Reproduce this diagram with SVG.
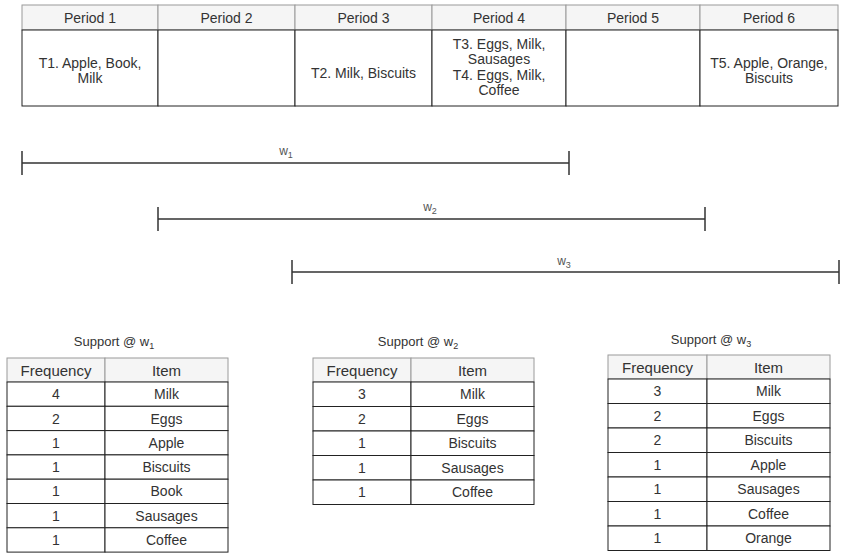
<svg xmlns="http://www.w3.org/2000/svg" width="843" height="556" viewBox="0 0 843 556">
<style>
text{font-family:"Liberation Sans",Arial,sans-serif;font-size:14px;fill:#333;text-anchor:middle}
.th{font-size:15px}
.ti{font-size:13px}
.hd{fill:#f5f5f5;stroke:#9a9a9a;stroke-width:1}
.cl{fill:#fff;stroke:#222;stroke-width:1}
.win{stroke:#333;stroke-width:1.5;fill:none}
.wl{fill:#555;font-size:12px}
.sub{font-size:9px}
</style>
<rect width="843" height="556" fill="#fff"/>
<g id="periods">
  <g id="period1">
    <rect class="hd" x="22" y="5" width="136" height="25"/>
    <rect class="cl" x="22" y="30" width="136" height="76"/>
    <text x="90" y="23">Period 1</text>
    <text x="90" y="68">T1. Apple, Book,</text>
    <text x="90" y="83">Milk</text>
  </g>
  <g id="period2">
    <rect class="hd" x="158" y="5" width="137" height="25"/>
    <rect class="cl" x="158" y="30" width="137" height="76"/>
    <text x="226.5" y="23">Period 2</text>
  </g>
  <g id="period3">
    <rect class="hd" x="295" y="5" width="137" height="25"/>
    <rect class="cl" x="295" y="30" width="137" height="76"/>
    <text x="363.5" y="23">Period 3</text>
    <text x="363.5" y="78">T2. Milk, Biscuits</text>
  </g>
  <g id="period4">
    <rect class="hd" x="432" y="5" width="134" height="25"/>
    <rect class="cl" x="432" y="30" width="134" height="76"/>
    <text x="499" y="23">Period 4</text>
    <text x="499" y="48.5">T3. Eggs, Milk,</text>
    <text x="499" y="64">Sausages</text>
    <text x="499" y="79.5">T4. Eggs, Milk,</text>
    <text x="499" y="95">Coffee</text>
  </g>
  <g id="period5">
    <rect class="hd" x="566" y="5" width="134" height="25"/>
    <rect class="cl" x="566" y="30" width="134" height="76"/>
    <text x="633" y="23">Period 5</text>
  </g>
  <g id="period6">
    <rect class="hd" x="700" y="5" width="138" height="25"/>
    <rect class="cl" x="700" y="30" width="138" height="76"/>
    <text x="769" y="23">Period 6</text>
    <text x="769" y="68">T5. Apple, Orange,</text>
    <text x="769" y="83">Biscuits</text>
  </g>
</g>
<g id="windows">
  <g id="w1">
    <path class="win" d="M22,163H569M22,151V175M569,151V175"/>
    <text class="wl" x="286" y="155">w<tspan class="sub" dy="3">1</tspan></text>
  </g>
  <g id="w2">
    <path class="win" d="M158,219H705M158,207V231M705,207V231"/>
    <text class="wl" x="430" y="211">w<tspan class="sub" dy="3">2</tspan></text>
  </g>
  <g id="w3">
    <path class="win" d="M292,272H839M292,260V284M839,260V284"/>
    <text class="wl" x="564" y="265">w<tspan class="sub" dy="3">3</tspan></text>
  </g>
</g>
<g id="support-w1">
  <text class="ti" x="114" y="346">Support @ w<tspan class="sub" dy="3">1</tspan></text>
  <rect class="hd" x="7" y="358" width="98" height="24"/>
  <rect class="hd" x="105" y="358" width="123" height="24"/>
  <text class="th" x="56" y="375.5">Frequency</text>
  <text class="th" x="166.5" y="375.5">Item</text>
  <g>
    <rect class="cl" x="7" y="382" width="98" height="24.3"/><rect class="cl" x="105" y="382" width="123" height="24.3"/>
    <rect class="cl" x="7" y="406.3" width="98" height="24.3"/><rect class="cl" x="105" y="406.3" width="123" height="24.3"/>
    <rect class="cl" x="7" y="430.6" width="98" height="24.3"/><rect class="cl" x="105" y="430.6" width="123" height="24.3"/>
    <rect class="cl" x="7" y="454.9" width="98" height="24.3"/><rect class="cl" x="105" y="454.9" width="123" height="24.3"/>
    <rect class="cl" x="7" y="479.2" width="98" height="24.3"/><rect class="cl" x="105" y="479.2" width="123" height="24.3"/>
    <rect class="cl" x="7" y="503.5" width="98" height="24.3"/><rect class="cl" x="105" y="503.5" width="123" height="24.3"/>
    <rect class="cl" x="7" y="527.8" width="98" height="24.3"/><rect class="cl" x="105" y="527.8" width="123" height="24.3"/>
  </g>
  <text x="56" y="399.2">4</text><text x="166.5" y="399.2">Milk</text>
  <text x="56" y="423.5">2</text><text x="166.5" y="423.5">Eggs</text>
  <text x="56" y="447.8">1</text><text x="166.5" y="447.8">Apple</text>
  <text x="56" y="472.1">1</text><text x="166.5" y="472.1">Biscuits</text>
  <text x="56" y="496.4">1</text><text x="166.5" y="496.4">Book</text>
  <text x="56" y="520.7">1</text><text x="166.5" y="520.7">Sausages</text>
  <text x="56" y="545">1</text><text x="166.5" y="545">Coffee</text>
</g>
<g id="support-w2">
  <text class="ti" x="418" y="346">Support @ w<tspan class="sub" dy="3">2</tspan></text>
  <rect class="hd" x="313" y="358" width="98" height="24"/>
  <rect class="hd" x="411" y="358" width="123" height="24"/>
  <text class="th" x="362" y="375.5">Frequency</text>
  <text class="th" x="472.5" y="375.5">Item</text>
  <g>
    <rect class="cl" x="313" y="382" width="98" height="24.5"/><rect class="cl" x="411" y="382" width="123" height="24.5"/>
    <rect class="cl" x="313" y="406.5" width="98" height="24.5"/><rect class="cl" x="411" y="406.5" width="123" height="24.5"/>
    <rect class="cl" x="313" y="431" width="98" height="24.5"/><rect class="cl" x="411" y="431" width="123" height="24.5"/>
    <rect class="cl" x="313" y="455.5" width="98" height="24.5"/><rect class="cl" x="411" y="455.5" width="123" height="24.5"/>
    <rect class="cl" x="313" y="480" width="98" height="24.5"/><rect class="cl" x="411" y="480" width="123" height="24.5"/>
  </g>
  <text x="362" y="399.3">3</text><text x="472.5" y="399.3">Milk</text>
  <text x="362" y="423.8">2</text><text x="472.5" y="423.8">Eggs</text>
  <text x="362" y="448.3">1</text><text x="472.5" y="448.3">Biscuits</text>
  <text x="362" y="472.8">1</text><text x="472.5" y="472.8">Sausages</text>
  <text x="362" y="497.3">1</text><text x="472.5" y="497.3">Coffee</text>
</g>
<g id="support-w3">
  <text class="ti" x="711" y="344">Support @ w<tspan class="sub" dy="3">3</tspan></text>
  <rect class="hd" x="608" y="355" width="99" height="24"/>
  <rect class="hd" x="707" y="355" width="123" height="24"/>
  <text class="th" x="657.5" y="372.5">Frequency</text>
  <text class="th" x="768.5" y="372.5">Item</text>
  <g>
    <rect class="cl" x="608" y="379" width="99" height="24.5"/><rect class="cl" x="707" y="379" width="123" height="24.5"/>
    <rect class="cl" x="608" y="403.5" width="99" height="24.5"/><rect class="cl" x="707" y="403.5" width="123" height="24.5"/>
    <rect class="cl" x="608" y="428" width="99" height="24.5"/><rect class="cl" x="707" y="428" width="123" height="24.5"/>
    <rect class="cl" x="608" y="452.5" width="99" height="24.5"/><rect class="cl" x="707" y="452.5" width="123" height="24.5"/>
    <rect class="cl" x="608" y="477" width="99" height="24.5"/><rect class="cl" x="707" y="477" width="123" height="24.5"/>
    <rect class="cl" x="608" y="501.5" width="99" height="24.5"/><rect class="cl" x="707" y="501.5" width="123" height="24.5"/>
    <rect class="cl" x="608" y="526" width="99" height="24.5"/><rect class="cl" x="707" y="526" width="123" height="24.5"/>
  </g>
  <text x="657.5" y="396.3">3</text><text x="768.5" y="396.3">Milk</text>
  <text x="657.5" y="420.8">2</text><text x="768.5" y="420.8">Eggs</text>
  <text x="657.5" y="445.3">2</text><text x="768.5" y="445.3">Biscuits</text>
  <text x="657.5" y="469.8">1</text><text x="768.5" y="469.8">Apple</text>
  <text x="657.5" y="494.3">1</text><text x="768.5" y="494.3">Sausages</text>
  <text x="657.5" y="518.8">1</text><text x="768.5" y="518.8">Coffee</text>
  <text x="657.5" y="543.3">1</text><text x="768.5" y="543.3">Orange</text>
</g>
</svg>
